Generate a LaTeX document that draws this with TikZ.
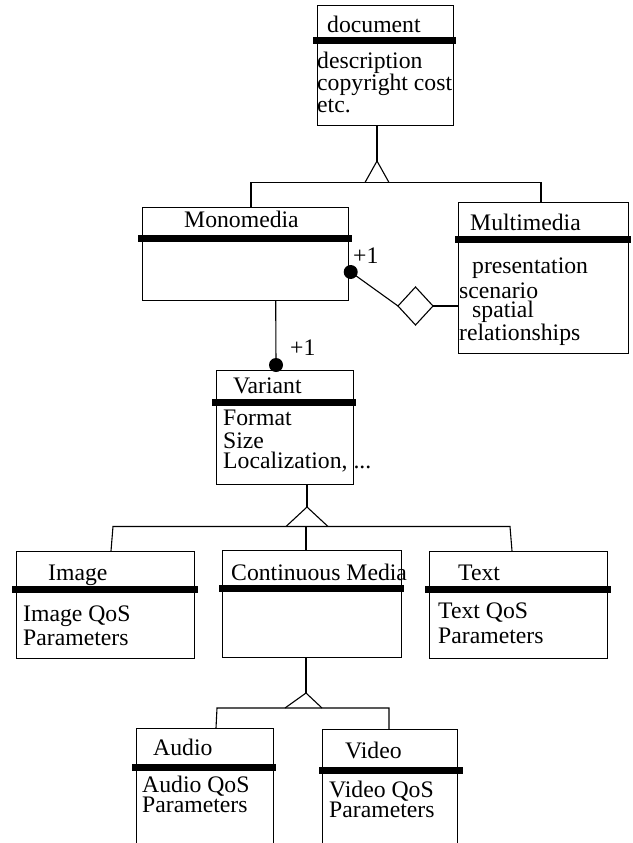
\documentclass[tikz,border=0pt]{standalone}
\usepackage{fontspec}
\setmainfont{Liberation Serif}
\begin{document}
\begin{tikzpicture}[x=1pt,y=-1pt,
  box/.style={draw, line width=1.1pt, inner sep=0pt, anchor=north west},
  bar/.style={line width=7pt},
  ln/.style={line width=1.1pt},
  txt/.style={inner sep=0pt, anchor=base west, font=\fontsize{23.7}{22}\selectfont},
  dot/.style={circle, fill, inner sep=0pt, minimum size=14pt}]
\clip (0,0) rectangle (632,843);
\fill[white] (0,0) rectangle (632,843);

% ---------- boxes ----------
\node[box, minimum width=136pt, minimum height=120pt] (doc) at (317,5) {};
\node[box, minimum width=206pt, minimum height=93pt] (mono) at (142,207) {};
\node[box, minimum width=170pt, minimum height=151pt] (multi) at (458,202) {};
\node[box, minimum width=137pt, minimum height=114pt] (var) at (216,370) {};
\node[box, minimum width=178pt, minimum height=107pt] (img) at (16,551) {};
\node[box, minimum width=179pt, minimum height=107pt] (cm) at (222,550) {};
\node[box, minimum width=178pt, minimum height=107pt] (txtb) at (429,551) {};
\node[box, minimum width=137pt, minimum height=140pt] (aud) at (136,728) {};
\node[box, minimum width=135pt, minimum height=140pt] (vid) at (322,729) {};

% ---------- bars ----------
\draw[bar] (313,40.5) -- (456,40.5);
\draw[bar] (138,238.5) -- (352,238.5);
\draw[bar] (455,239.5) -- (631,239.5);
\draw[bar] (212,402.5) -- (356,402.5);
\draw[bar] (12,589) -- (198,589);
\draw[bar] (219,588.5) -- (404,588.5);
\draw[bar] (425,589.5) -- (611,589.5);
\draw[bar] (132,767) -- (276,767);
\draw[bar] (319,770.5) -- (463,770.5);

% ---------- texts ----------
\node[txt] (t1) at (327,33) {document};
\node[txt] (t2) at (317,68) {description};
\node[txt] (t3) at (317,90.5) {copyright cost};
\node[txt] (t4) at (317,112) {etc.};
\node[txt] (t5) at (184,227) {Monomedia};
\node[txt] (t6) at (470,230) {Multimedia};
\node[txt] (t7) at (472,273) {presentation};
\node[txt] (t8) at (459,298) {scenario};
\node[txt] (t9) at (472,317) {spatial};
\node[txt] (t10) at (459,340) {relationships};
\node[txt] (p1) at (353,263) {+1};
\node[txt] (p2) at (290,355) {+1};
\node[txt] (t11) at (233,393) {Variant};
\node[txt] (t12) at (223,425) {Format};
\node[txt] (t13) at (223,448) {Size};
\node[txt] (t14) at (223,468) {Localization, ...};
\node[txt] (t15) at (48,580) {Image};
\node[txt] (t16) at (23,621) {Image QoS};
\node[txt] (t17) at (23,645) {Parameters};
\node[txt] (t18) at (231,580) {Continuous Media};
\node[txt] (t19) at (458,580) {Text};
\node[txt] (t20) at (438,618) {Text QoS};
\node[txt] (t21) at (438,643) {Parameters};
\node[txt] (t22) at (153,755) {Audio};
\node[txt] (t23) at (142,792) {Audio QoS};
\node[txt] (t24) at (142,812) {Parameters};
\node[txt] (t25) at (345,758) {Video};
\node[txt] (t26) at (329,797) {Video QoS};
\node[txt] (t27) at (329,817) {Parameters};

% ---------- connectors: document inheritance ----------
\coordinate (dA) at (377,125);
\coordinate (dT) at (377,161);
\coordinate (dL) at (365,182.5);
\coordinate (dR) at (389,182.5);
\coordinate (hL) at (251,182.5);
\coordinate (hR) at (541,182.5);
\coordinate (monoTop) at (251,207);
\coordinate (multiTop) at (541,202);
\draw[ln] (dA) -- (dT);
\draw[ln] (dL) -- (dT) -- (dR);
\draw[ln] (monoTop) -- (hL) -- (hR) -- (multiTop);

% ---------- aggregation Monomedia - Multimedia ----------
\node[dot] (m1) at (350.7,272) {};
\coordinate (dmL) at (398,306);
\coordinate (dmT) at (415.5,287);
\coordinate (dmR) at (433,306);
\coordinate (dmB) at (415.5,325);
\draw[ln] (dmL) -- (dmT) -- (dmR) -- (dmB) -- cycle;
\draw[ln] (m1.center) -- (dmL);
\draw[ln] (dmR) -- (dmR -| multi.west);

% ---------- Monomedia - Variant ----------
\coordinate (monoB) at (275.7,300);
\node[dot] (v1) at (276,365) {};
\draw[ln] (monoB) -- (v1.center);

% ---------- Variant inheritance ----------
\coordinate (vB) at (307,484);
\coordinate (vT) at (307,507);
\coordinate (vL) at (286,526.5);
\coordinate (vR) at (328,526.5);
\coordinate (iTop) at (111,551);
\coordinate (hiL) at (113,526.5);
\coordinate (htR) at (510,526.5);
\coordinate (tTop) at (512,551);
\coordinate (hM) at (306,526.5);
\coordinate (cmTop) at (306,550);
\draw[ln] (vB) -- (vT);
\draw[ln] (vL) -- (vT) -- (vR);
\draw[ln] (iTop) -- (hiL) -- (htR) -- (tTop);
\draw[ln] (hM) -- (cmTop);

% ---------- Continuous Media inheritance ----------
\coordinate (cB) at (306,657);
\coordinate (cT) at (306,693);
\coordinate (cL) at (285,708);
\coordinate (cR) at (322,708);
\coordinate (aTop) at (216,728);
\coordinate (haL) at (217,708);
\coordinate (haR) at (389,708);
\coordinate (vdTop) at (389,729);
\draw[ln] (cB) -- (cT);
\draw[ln] (cL) -- (cT) -- (cR);
\draw[ln] (aTop) -- (haL) -- (haR) -- (vdTop);
\end{tikzpicture}
\end{document}
